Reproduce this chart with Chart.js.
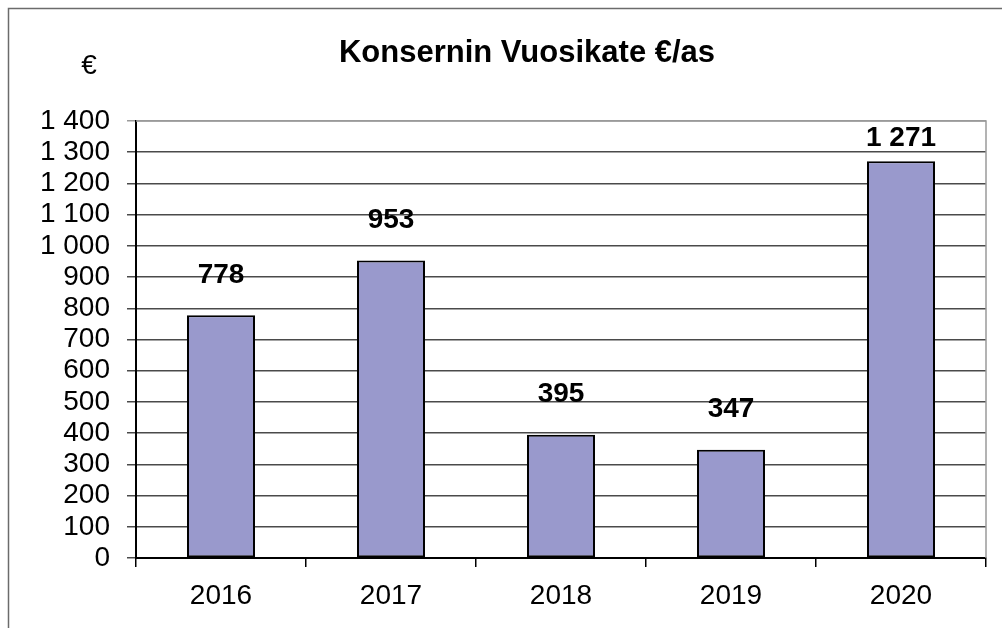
<!DOCTYPE html>
<html>
<head>
<meta charset="utf-8">
<script src="https://cdn.jsdelivr.net/npm/chart.js@4.4.1/dist/chart.umd.min.js"></script>
<style>
  html, body { margin: 0; padding: 0; background: #fff; }
  #wrap { width: 1002px; height: 628px; }
</style>
</head>
<body>
<div id="wrap"><canvas id="chart" width="1002" height="628"></canvas></div>
<script>
// data
const years = ['2016', '2017', '2018', '2019', '2020'];
const vuosikate = [778, 953, 395, 347, 1271];
const yTicks = [0, 100, 200, 300, 400, 500, 600, 700, 800, 900, 1000, 1100, 1200, 1300, 1400];

const chartTitle = 'Konsernin Vuosikate €/as';
const unitLabel = '€';

const FONT = '"Liberation Sans", Arial, sans-serif';

// 1 400 style: space as thousands separator
const fmt = v => String(v).replace(/\B(?=(\d{3})+(?!\d))/g, ' ');

// frame, title, unit and bar value labels
const decorations = {
  id: 'decorations',
  afterDraw(chart) {
    const ctx = chart.ctx;
    const area = chart.chartArea;
    ctx.save();

    // outer frame (top and left edges visible)
    ctx.strokeStyle = '#6b6b6b';
    ctx.lineWidth = 1.5;
    ctx.beginPath();
    ctx.moveTo(8.5, 628);
    ctx.lineTo(8.5, 8.5);
    ctx.lineTo(1002, 8.5);
    ctx.stroke();

    // plot area top / right edge
    ctx.strokeStyle = '#9a9a9a';
    ctx.lineWidth = 1.5;
    ctx.beginPath();
    ctx.moveTo(area.left, area.top);
    ctx.lineTo(area.right, area.top);
    ctx.lineTo(area.right, area.bottom);
    ctx.stroke();

    // title
    ctx.fillStyle = '#000';
    ctx.textAlign = 'center';
    ctx.textBaseline = 'middle';
    ctx.font = 'bold 31px ' + FONT;
    ctx.fillText(chartTitle, 527, 53);

    ctx.font = '28px ' + FONT;
    ctx.fillText(unitLabel, 89, 66);

    // value labels above bars, kept inside the plot area
    ctx.font = 'bold 28px ' + FONT;
    const meta = chart.getDatasetMeta(0);
    meta.data.forEach((bar, i) => {
      const lift = Math.min(40, bar.y - area.top - 17);
      ctx.fillText(fmt(vuosikate[i]), bar.x, bar.y - lift);
    });
    ctx.restore();
  }
};

new Chart(document.getElementById('chart'), {
  type: 'bar',
  data: {
    labels: years,
    datasets: [{
      data: vuosikate,
      backgroundColor: '#9999cc',
      borderColor: '#000',
      borderWidth: 2,
      borderSkipped: false,
      barPercentage: 0.4,
      categoryPercentage: 1.0
    }]
  },
  options: {
    responsive: false,
    animation: false,
    layout: { padding: { top: 121, right: 16, left: 0, bottom: 0 } },
    plugins: {
      legend: { display: false },
      title: { display: false },
      tooltip: { enabled: false }
    },
    scales: {
      x: {
        offset: true,
        grid: {
          offset: true,
          drawOnChartArea: false,
          drawTicks: true,
          tickLength: 9,
          color: '#000',
          lineWidth: 1.5
        },
        border: { color: '#000', width: 2 },
        ticks: {
          color: '#000',
          font: { family: FONT, size: 28 },
          padding: 12
        },
        afterFit(scale) { scale.height = 70; }
      },
      y: {
        min: 0,
        max: 1400,
        afterBuildTicks(scale) { scale.ticks = yTicks.map(v => ({ value: v })); },
        grid: {
          color: ctx => (ctx.tick && ctx.tick.value === 1400) ? '#9a9a9a' : '#4a4a4a',
          lineWidth: 1.5,
          drawTicks: true,
          tickLength: 9
        },
        border: { color: '#000', width: 2 },
        ticks: {
          autoSkip: false,
          color: '#000',
          font: { family: FONT, size: 28 },
          padding: 17,
          callback: v => fmt(v)
        },
        afterFit(scale) { scale.width = 136; }
      }
    }
  },
  plugins: [decorations]
});
</script>
</body>
</html>
